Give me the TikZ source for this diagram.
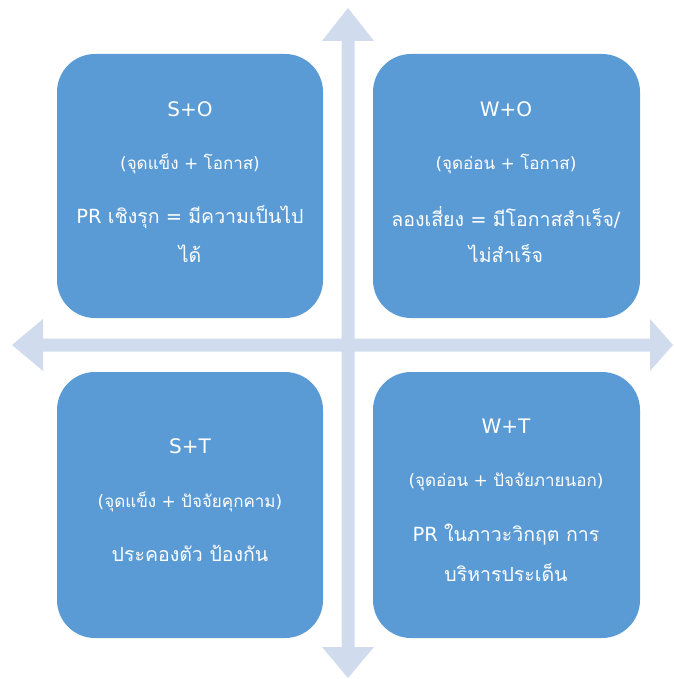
\documentclass[tikz,border=0pt]{standalone}
\usepackage{fontspec}
\setmainfont{DejaVu Sans}
\newfontfamily\thai[Script=Thai]{Loma}
\definecolor{boxblue}{HTML}{5B9BD5}
\definecolor{arrowblue}{HTML}{D0DCEE}
\begin{document}
\begin{tikzpicture}[x=1pt,y=-1pt,
  quad/.style={fill=boxblue, rounded corners=38pt},
  ttl/.style={text=white, font=\fontsize{20}{24}\selectfont, anchor=center},
  sub/.style={text=white, font=\fontsize{17}{20}\selectfont, anchor=center},
  body/.style={text=white, font=\fontsize{19.5}{23}\selectfont, anchor=center}]
\useasboundingbox (0,0) rectangle (673,679);
% arrows
\fill[arrowblue] (348,8) -- (374,41) -- (354.5,41) -- (354.5,647) -- (374,647) -- (348,678)
  -- (322,647) -- (341.5,647) -- (341.5,41) -- (322,41) -- cycle;
\fill[arrowblue] (12,345) -- (43,319) -- (43,338.5) -- (650,338.5) -- (650,319) -- (673,345)
  -- (650,371) -- (650,351.5) -- (43,351.5) -- (43,371) -- cycle;
% boxes
\fill[quad] (57,54) rectangle (323,318);
\fill[quad] (373,54) rectangle (640,318);
\fill[quad] (57,372) rectangle (323,638);
\fill[quad] (373,372) rectangle (640,638);
% TL
\node[ttl] (so) at (190,109) {S+O};
\node[sub] (so2) at (190,164) {({\thai จุดแข็ง} + {\thai โอกาส})};
\node[body] (so3) at (190,217) {PR {\thai เชิงรุก} = {\thai มีความเป็นไป}};
\node[body] (so4) at (190,254) {\thai ได้};
% TR
\node[ttl] (wo) at (506,109) {W+O};
\node[sub] (wo2) at (506,164) {({\thai จุดอ่อน} + {\thai โอกาส})};
\node[body] (wo3) at (506,217) {{\thai ลองเสี่ยง} = {\thai มีโอกาสสำเร็จ}/};
\node[body] (wo4) at (506,254) {\thai ไม่สำเร็จ};
% BL
\node[ttl] (st) at (190,446) {S+T};
\node[sub] (st2) at (190,502) {({\thai จุดแข็ง} + {\thai ปัจจัยคุกคาม})};
\node[body] (st3) at (190,553) {\thai ประคองตัว ป้องกัน};
% BR
\node[ttl] (wt) at (506,426) {W+T};
\node[sub] (wt2) at (506,482) {({\thai จุดอ่อน} + {\thai ปัจจัยภายนอก})};
\node[body] (wt3) at (506,535) {PR {\thai ในภาวะวิกฤต การ}};
\node[body] (wt4) at (506,573) {\thai บริหารประเด็น};
\end{tikzpicture}
\end{document}
